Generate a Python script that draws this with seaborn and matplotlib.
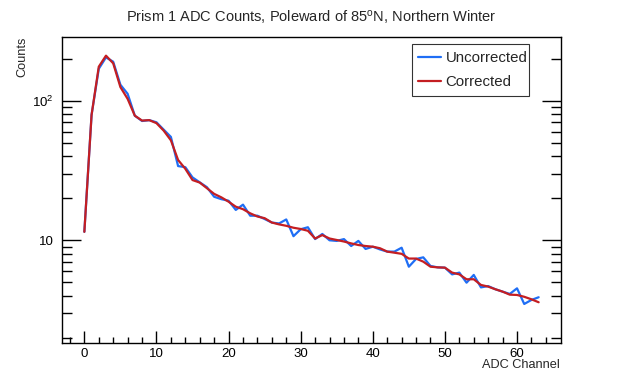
import numpy as np
import pandas as pd
import matplotlib
matplotlib.use("Agg")
import matplotlib.pyplot as plt
import seaborn as sns
from matplotlib.ticker import FixedLocator, NullFormatter
from matplotlib.lines import Line2D

channels = list(range(64))
uncorrected = [11.5, 79, 169, 204, 190, 130, 112, 78, 71.5, 72.5, 70, 62, 55, 34, 33.4,
               28.2, 26, 24, 20.5, 19.7, 19.2, 16.5, 18, 15, 15, 14.2, 13.4, 13.2, 14.1, 10.7,
               12, 12.4, 10.2, 11.1, 10, 9.9, 10.2, 9.1, 9.9, 8.67, 9.0, 8.6, 8.3, 8.3, 8.85,
               6.47, 7.35, 7.55, 6.55, 6.4, 6.37, 5.7, 5.87, 4.97, 5.65, 4.6, 4.7, 4.46, 4.29,
               4.13, 4.53, 3.5, 3.74, 3.91]
corrected = [11.5, 79, 175, 210, 185, 125, 103, 78, 72, 72.5, 69, 61, 52, 37.6, 32.5,
             27, 25.9, 23.6, 21.5, 20.3, 18.9, 17.4, 16.7, 15.6, 14.8, 14.4, 13.4, 13, 12.7, 12.3,
             12.05, 11.7, 10.3, 10.9, 10.3, 10.05, 9.8, 9.5, 9.25, 9.1, 9.0, 8.77, 8.3, 8.15, 8.0,
             7.4, 7.4, 7.03, 6.47, 6.4, 6.37, 5.87, 5.7, 5.26, 5.26, 4.79, 4.66, 4.46, 4.29,
             4.08, 4.06, 3.94, 3.78, 3.6]
series_names = ["Uncorrected", "Corrected"]
x_ticks = [0, 10, 20, 30, 40, 50, 60]
y_ticks = [10, 100]
y_tick_labels = ["10", "$10^{2}$"]

title = "Prism 1 ADC Counts, Poleward of 85$^{\\mathregular{o}}$N, Northern Winter"

sns.set_theme(style="white")
plt.rcParams['font.family'] = ['Liberation Sans', 'DejaVu Sans']
plt.rcParams['mathtext.fontset'] = 'custom'
plt.rcParams['mathtext.rm'] = 'Liberation Sans'
plt.rcParams['mathtext.it'] = 'Liberation Sans'
plt.rcParams['mathtext.default'] = 'regular'

df = pd.DataFrame({
    "ADC Channel": channels * 2,
    "Counts": uncorrected + corrected,
    "Series": [series_names[0]] * 64 + [series_names[1]] * 64,
})

fig = plt.figure(figsize=(6.23, 3.81), dpi=100)
ax = fig.add_axes([62/623, 1 - 342.7/381, (561 - 62)/623, (342.7 - 36.7)/381])

palette = {"Uncorrected": "#1f6ef5", "Corrected": "#c41e22"}
sns.lineplot(data=df, x="ADC Channel", y="Counts", hue="Series", palette=palette,
             linewidth=1.6, ax=ax, legend=False)

ax.set_yscale("log")
ax.set_xlim(-3.1, 66.1)
ax.set_ylim(1.848, 287)

ax.xaxis.set_major_locator(FixedLocator(x_ticks))
ax.xaxis.set_minor_locator(FixedLocator(list(range(-2, 66, 2))))
ax.set_xticklabels([str(t) for t in x_ticks])
ax.yaxis.set_major_locator(FixedLocator(y_ticks))
minors = [m * 10**e for e in (0, 1, 2) for m in range(2, 10)]
ax.yaxis.set_minor_locator(FixedLocator(minors))
ax.yaxis.set_minor_formatter(NullFormatter())
ax.set_yticklabels(y_tick_labels)

ax.tick_params(axis='x', which='major', direction='in', length=9, width=1, color='black',
               labelsize=9.5, pad=4, top=False, bottom=True, labelcolor='black')
ax.tick_params(axis='x', which='minor', direction='in', length=4.5, width=1, color='black',
               top=False, bottom=True)
ax.tick_params(axis='y', which='major', direction='in', length=14, width=1, color='black',
               labelsize=9.5, pad=6, left=True, right=True, labelcolor='black')
ax.tick_params(axis='y', which='minor', direction='in', length=7, width=1, color='black',
               left=True, right=True)

for s in ax.spines.values():
    s.set_color('black')
    s.set_linewidth(1)
    s.set_visible(True)

ax.set_xlabel("")
ax.set_ylabel("")
fig.text(560/623, 1 - 365/381, "ADC Channel", ha='right', va='center', fontsize=9.2)
fig.text(22/623, 1 - 37/381, "Counts", ha='center', va='top', rotation=90, fontsize=9.2)
fig.text(0.5, 1 - 17/381, title, ha='center', va='center', fontsize=10.5)

handles = [Line2D([0], [0], color=palette[n], lw=1.6) for n in series_names]
leg_x0 = (411.7 - 62) / 499
leg_w = (529.3 - 411.7) / 499
leg_y0 = (342.7 - 95) / 306
leg_h = (95 - 44.3) / 306
leg = ax.legend(handles, series_names, loc='upper left',
                bbox_to_anchor=(leg_x0, leg_y0, leg_w, leg_h),
                mode='expand', borderaxespad=0, fontsize=10.8, frameon=True, fancybox=False,
                handlelength=1.5, handletextpad=0.3, borderpad=0.45, labelspacing=0.65)
leg.get_frame().set_edgecolor('black')
leg.get_frame().set_linewidth(0.8)

fig.savefig("out.png", dpi=100)
